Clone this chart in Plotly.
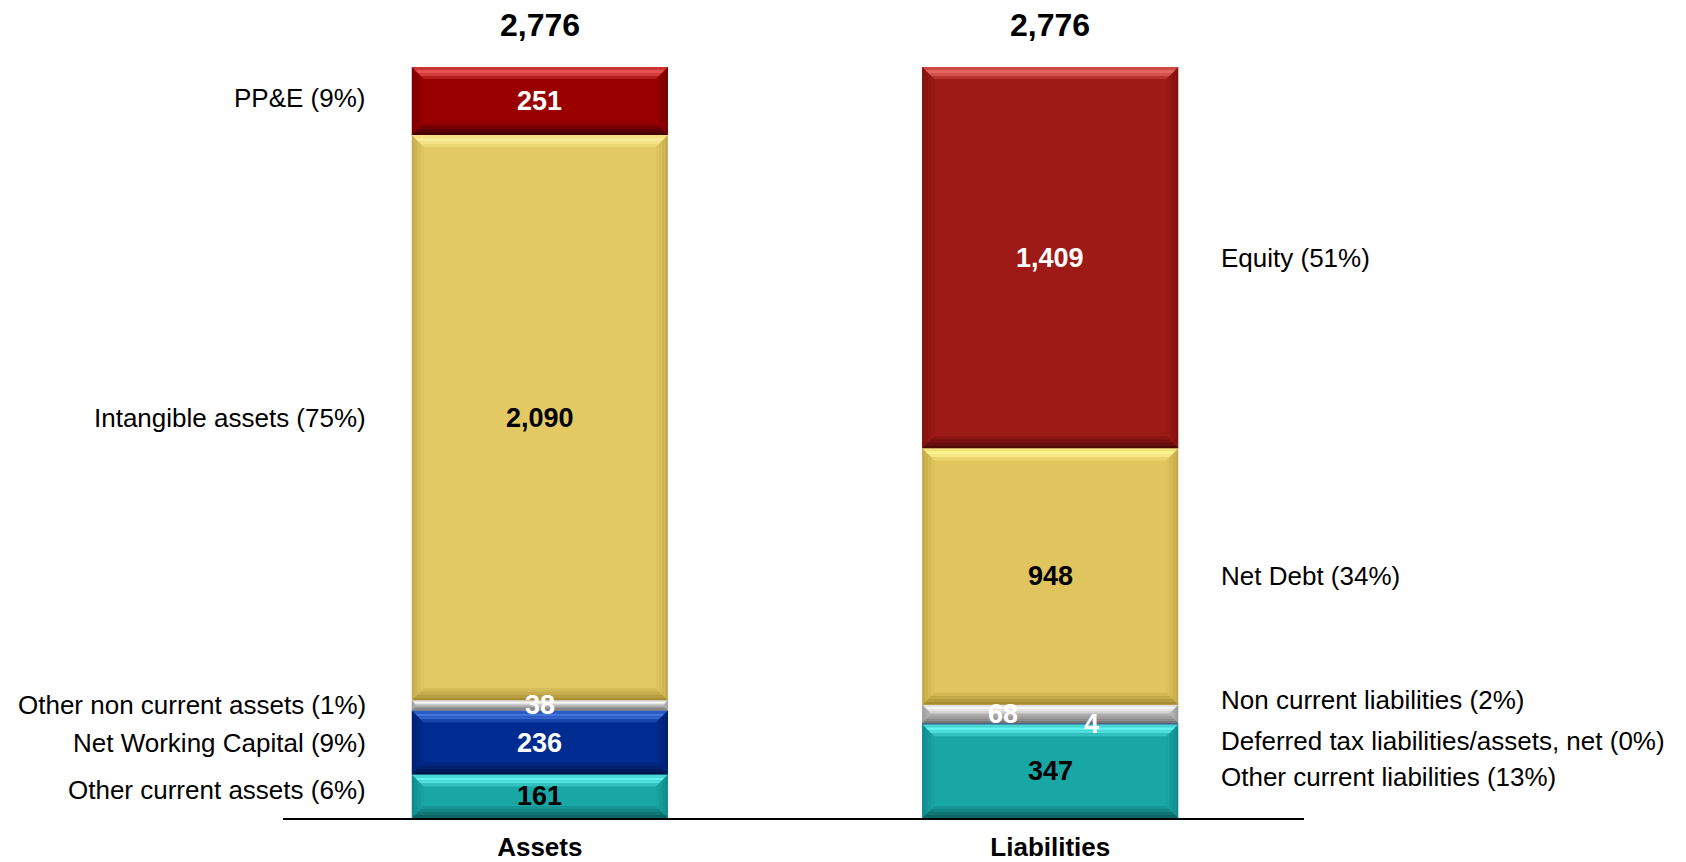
import plotly.graph_objects as go

# ---- data (stacked bottom -> top) ----
columns = ["Assets", "Liabilities"]

asset_names = ["Other current assets (6%)", "Net Working Capital (9%)",
               "Other non current assets (1%)", "Intangible assets (75%)", "PP&E (9%)"]
asset_values = [161, 236, 38, 2090, 251]

liab_names = ["Other current liabilities (13%)", "Deferred tax liabilities/assets, net (0%)",
              "Non current liabilities (2%)", "Net Debt (34%)", "Equity (51%)"]
liab_values = [347, 4, 68, 948, 1409]

# ---- styling ----
FONT = "Liberation Sans, Arial, sans-serif"
W, H = 1686, 862
M_L, M_R, M_T, M_B = 283, 382, 67, 44
X_RANGE = [-0.503, 1.497]
BAR_W = 0.5015

# (base, highlight, shadow, side) per segment
asset_colors = [
    ("#19A7A5", "#62F2F0", "#0C6664", "#10888A"),
    ("#002C91", "#4276DE", "#001448", "#00206E"),
    ("#BDBDBD", "#F6F6F6", "#767676", "#9A9A9A"),
    ("#E3C964", "#FAEC94", "#A88F35", "#C2A94C"),
    ("#9A0000", "#E65050", "#4A0000", "#780000"),
]
liab_colors = [
    ("#19A7A5", "#62F2F0", "#0C6664", "#10888A"),
    ("#4B5C8C", "#7F90C0", "#33406A", "#445280"),
    ("#BDBDBD", "#F6F6F6", "#767676", "#9A9A9A"),
    ("#E0C55E", "#FFF494", "#A68C32", "#C2A747"),
    ("#9E1A16", "#E6645E", "#500B09", "#7E1310"),
]
asset_text_col = ["black", "white", "white", "black", "white"]
liab_text_col = ["black", "white", "white", "black", "white"]
# horizontal nudges (px) for value labels of thin segments
liab_text_dx = [0, 41, -47, 0, 0]
# vertical nudges (px) for side labels
asset_label_dy = [6, 0, 0, 0, 3]
liab_label_dy = [-6, -17, 14, 0, 0]

# bevel shading profile, outer edge -> inner edge (share of edge colour mixed in)
TOP_PROFILE = [0.65, 1.0, 0.75, 0.35]
BOTTOM_PROFILE = [1.0, 0.75, 0.5, 0.25]
SIDE_PROFILE = [0.9, 0.65, 0.4, 0.15]

total = sum(asset_values)
plot_h = H - M_T - M_B
plot_w = W - M_L - M_R
dy = total / plot_h                      # data units per pixel (y)
dx = (X_RANGE[1] - X_RANGE[0]) / plot_w  # data units per pixel (x)

fig = go.Figure()
shapes = []
annotations = []


def mix(c1, c2, t):
    a = [int(c1[i:i + 2], 16) for i in (1, 3, 5)]
    b = [int(c2[i:i + 2], 16) for i in (1, 3, 5)]
    return "#" + "".join(f"{round(x + (y - x) * t):02X}" for x, y in zip(a, b))


def bevel(xc, y0, y1, cols):
    base, hi, lo, side = cols
    h_px = (y1 - y0) / dy
    b_px = min(12.0, h_px / 2.0)
    n = len(TOP_PROFILE)
    xl, xr = xc - BAR_W / 2, xc + BAR_W / 2

    def poly(pts, color):
        path = "M " + " L ".join(f"{px},{py}" for px, py in pts) + " Z"
        shapes.append(dict(type="path", path=path, xref="x", yref="y",
                           fillcolor=color, line=dict(width=0), layer="above"))

    for k in range(n):
        a0 = b_px * k / n
        a1 = b_px * (k + 1) / n
        ax0, ax1 = a0 * dx, a1 * dx
        ay0, ay1 = a0 * dy, a1 * dy
        # left / right sides
        c = mix(base, side, SIDE_PROFILE[k])
        poly([(xl + ax0, y0 + ay0), (xl + ax1, y0 + ay1),
              (xl + ax1, y1 - ay1), (xl + ax0, y1 - ay0)], c)
        poly([(xr - ax0, y0 + ay0), (xr - ax1, y0 + ay1),
              (xr - ax1, y1 - ay1), (xr - ax0, y1 - ay0)], c)
        # top highlight
        c = mix(base, hi, TOP_PROFILE[k])
        poly([(xl + ax0, y1 - ay0), (xr - ax0, y1 - ay0),
              (xr - ax1, y1 - ay1), (xl + ax1, y1 - ay1)], c)
        # bottom shadow
        c = mix(base, lo, BOTTOM_PROFILE[k])
        poly([(xl + ax0, y0 + ay0), (xr - ax0, y0 + ay0),
              (xr - ax1, y0 + ay1), (xl + ax1, y0 + ay1)], c)


def add_column(xc, names, values, colors, text_cols, text_dx, label_dy, side):
    cum = 0
    for i, (nm, v) in enumerate(zip(names, values)):
        fig.add_trace(go.Bar(x=[xc], y=[v], width=BAR_W, name=nm,
                             marker=dict(color=colors[i][0], line=dict(width=0)),
                             hoverinfo="name+y", showlegend=False))
        y0, y1 = cum, cum + v
        bevel(xc, y0, y1, colors[i])
        mid = (y0 + y1) / 2
        annotations.append(dict(x=xc, y=mid, xref="x", yref="y", text=f"<b>{v:,}</b>",
                                showarrow=False, xshift=text_dx[i],
                                font=dict(family=FONT, size=27, color=text_cols[i])))
        if side == "left":
            annotations.append(dict(x=xc - BAR_W / 2, y=mid, xref="x", yref="y", text=nm,
                                    showarrow=False, xanchor="right", xshift=-44,
                                    yshift=label_dy[i],
                                    font=dict(family=FONT, size=26, color="black")))
        else:
            annotations.append(dict(x=xc + BAR_W / 2, y=mid, xref="x", yref="y", text=nm,
                                    showarrow=False, xanchor="left", xshift=41,
                                    yshift=label_dy[i],
                                    font=dict(family=FONT, size=26, color="black")))
        cum = y1
    # column total on top
    annotations.append(dict(x=xc, y=cum, xref="x", yref="y", text=f"<b>{cum:,}</b>",
                            showarrow=False, yanchor="bottom", yshift=22,
                            font=dict(family=FONT, size=32, color="black")))


add_column(0, asset_names, asset_values, asset_colors, asset_text_col,
           [0] * 5, asset_label_dy, "left")
add_column(1, liab_names, liab_values, liab_colors, liab_text_col,
           liab_text_dx, liab_label_dy, "right")

fig.update_layout(
    width=W, height=H,
    margin=dict(l=M_L, r=M_R, t=M_T, b=M_B, autoexpand=False),
    barmode="stack",
    bargap=0,
    plot_bgcolor="white", paper_bgcolor="white",
    shapes=shapes, annotations=annotations,
    xaxis=dict(range=X_RANGE, tickvals=[0, 1],
               ticktext=[f"<b>{c}</b>" for c in columns],
               tickfont=dict(family=FONT, size=26, color="black"),
               showgrid=False, zeroline=False, showline=True, automargin=False,
               linecolor="black", linewidth=2, ticks="", ticklabelstandoff=5),
    yaxis=dict(range=[0, total], visible=False, showgrid=False, zeroline=False,
               automargin=False),
    font=dict(family=FONT),
)

fig.write_html("out.html")
